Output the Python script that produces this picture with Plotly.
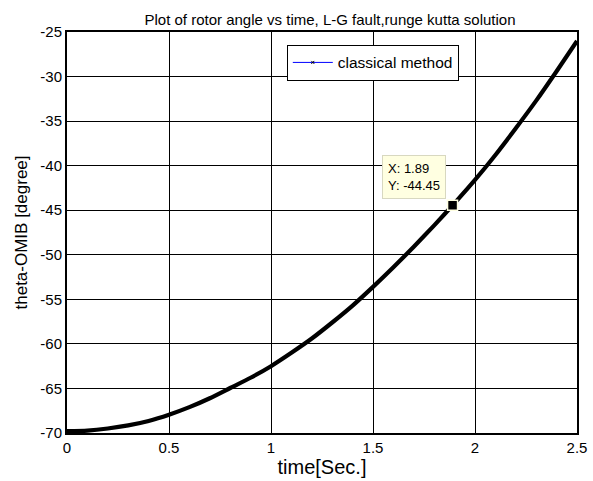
import plotly.graph_objects as go

# Rotor angle of the one-machine-infinite-bus equivalent during an L-G fault
time_s = [0.0, 0.1, 0.2, 0.3, 0.4, 0.5, 0.6, 0.7, 0.8, 0.9, 1.0, 1.1, 1.2,
          1.3, 1.4, 1.5, 1.6, 1.7, 1.8, 1.9, 2.0, 2.1, 2.2, 2.3, 2.4, 2.5]
theta_deg = [-69.8, -69.73, -69.5, -69.15, -68.65, -67.95, -67.1, -66.1,
             -64.95, -63.8, -62.5, -61.0, -59.4, -57.6, -55.7, -53.6, -51.4,
             -49.1, -46.7, -44.2, -41.6, -38.8, -35.8, -32.7, -29.4, -26.0]

# Data cursor
tip_x = 1.89
tip_y = -44.45

x_ticks = [0, 0.5, 1, 1.5, 2, 2.5]
y_ticks = [-70, -65, -60, -55, -50, -45, -40, -35, -30, -25]

FONT = "Liberation Sans, Arial, sans-serif"

fig = go.Figure()

fig.add_trace(go.Scatter(
    x=time_s, y=theta_deg, mode="lines",
    line=dict(color="black", width=4.2, shape="spline", smoothing=0.6),
    showlegend=False, hoverinfo="skip",
))

# legend entry: blue line with small cross markers
fig.add_trace(go.Scatter(
    x=[None], y=[None], mode="lines+markers", name="classical method",
    line=dict(color="#0000ff", width=1),
    marker=dict(symbol="x-thin", size=3, color="black",
                line=dict(color="black", width=1)),
))

fig.add_trace(go.Scatter(
    x=[tip_x], y=[tip_y], mode="markers",
    marker=dict(symbol="square", size=10, color="black",
                line=dict(color="#ffffe1", width=1.5)),
    showlegend=False, hoverinfo="skip",
))

fig.add_annotation(
    x=tip_x, y=tip_y, xref="x", yref="y",
    text=f"X: {tip_x:.2f}<br>Y: {tip_y:.2f}",
    showarrow=True, arrowcolor="rgba(0,0,0,0)", arrowwidth=0.1,
    ax=-38.5, ay=-28.5, align="left",
    bgcolor="#ffffe1", bordercolor="#d8d8c0", borderwidth=1, borderpad=5,
    font=dict(family=FONT, size=13, color="black"),
)

axis_common = dict(
    showgrid=True, gridcolor="black", gridwidth=1.4,
    showline=True, linecolor="black", linewidth=2, mirror=True,
    zeroline=False, ticks="", color="black", automargin=False,
    tickfont=dict(family=FONT, size=15, color="black"),
)

fig.update_xaxes(
    range=[0, 2.5], tickvals=x_ticks,
    ticktext=[f"{v:g}" for v in x_ticks],
    title=dict(text="time[Sec.]", font=dict(family=FONT, size=20, color="black"),
               standoff=2),
    **axis_common,
)
fig.update_yaxes(
    range=[-70, -25], tickvals=y_ticks,
    ticktext=[f"{v:g}" for v in y_ticks],
    title=dict(text="theta-OMIB [degree]",
               font=dict(family=FONT, size=17, color="black"), standoff=8),
    **axis_common,
)

fig.update_layout(
    width=593, height=481,
    margin=dict(l=67, r=16, t=32, b=48),
    paper_bgcolor="white", plot_bgcolor="white",
    title=dict(text="Plot of rotor angle vs time, L-G fault,runge kutta solution",
               x=0.5565, xanchor="center", y=0.958, yanchor="middle",
               font=dict(family=FONT, size=15, color="black")),
    legend=dict(x=0.431, y=0.968, xanchor="left", yanchor="top",
                bgcolor="white", bordercolor="black", borderwidth=1,
                font=dict(family=FONT, size=15.5, color="black"),
                itemwidth=40, tracegroupgap=0),
    showlegend=True,
)

fig.write_html("out.html")
